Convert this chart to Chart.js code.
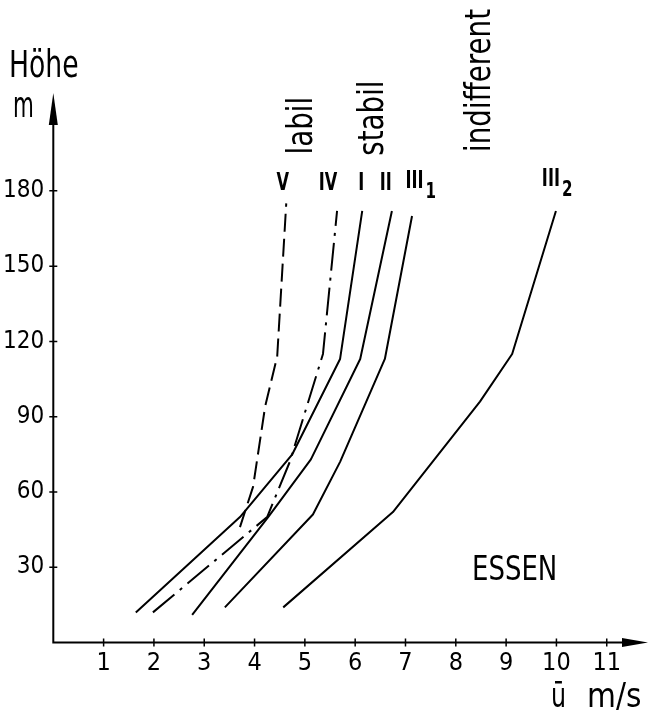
<!DOCTYPE html>
<html>
<head>
<meta charset="utf-8">
<script src="https://cdn.jsdelivr.net/npm/chart.js@4/dist/chart.umd.min.js"></script>
<style>
  html, body { margin: 0; padding: 0; background: #fff; }
  canvas { display: block; }
</style>
</head>
<body>
<canvas id="c" width="648" height="713"></canvas>
<script>
// ---- data (wind speed u [m/s] at height h [m]) ----
const uTicks = [1, 2, 3, 4, 5, 6, 7, 8, 9, 10, 11];
const hTicks = [30, 60, 90, 120, 150, 180];

const curveV_u   = [3.71, 3.97, 4.21, 4.45, 4.63];
const curveV_h   = [46, 62, 94, 114, 175];
const curveIV_u  = [1.98, 4.25, 4.70, 5.36, 5.64];
const curveIV_h  = [12, 50, 72, 115, 172];
const curveI_u   = [1.64, 3.71, 4.75, 5.70, 6.14];
const curveI_h   = [12, 50, 75, 113, 172];
const curveII_u  = [2.76, 4.27, 5.12, 6.10, 6.73];
const curveII_h  = [11, 50, 73, 113, 172];
const curveIII1_u = [3.41, 5.16, 5.70, 6.59, 7.13];
const curveIII1_h = [14, 51, 72, 113, 170];
const curveIII2_u = [4.57, 6.75, 8.48, 9.12, 9.99];
const curveIII2_h = [14, 52, 96, 115, 172];

const curveNames = ['V', 'IV', 'I', 'II', 'III', 'III'];
const curveSubs  = ['', '', '', '', '1', '2'];
const labelU     = [4.56, 5.46, 6.12, 6.61, 7.18, 9.89];
const labelH     = [180.5, 180.5, 180.5, 180.5, 181, 182];

const stabilityTexts = ['labil', 'stabil', 'indifferent'];
const stabilityU     = [4.96, 6.37, 8.50];
const stabilityH     = [206, 209, 224];

// ---- build ----
const FONT = "'DejaVu Sans Condensed', 'Liberation Sans Narrow', 'DejaVu Sans', sans-serif";
function pts(us, hs) { return us.map((u, i) => ({ x: u, y: hs[i] })); }
function ds(us, hs, dash) {
  return { data: pts(us, hs), showLine: true, borderColor: '#000', borderWidth: 2,
           borderDash: dash, pointRadius: 0, tension: 0, fill: false,
           borderCapStyle: 'butt', borderJoinStyle: 'round' };
}
function txt(ctx, s, x, y, font, sx, align, baseline, rot) {
  ctx.save();
  ctx.font = font; ctx.textAlign = align; ctx.textBaseline = baseline;
  ctx.translate(x, y);
  if (rot) ctx.rotate(rot);
  ctx.scale(sx, 1);
  ctx.fillText(s, 0, 0);
  const w = ctx.measureText(s).width * sx;
  ctx.restore();
  return w;
}

const decor = {
  id: 'decor',
  afterDraw(chart) {
    const ctx = chart.ctx, a = chart.chartArea;
    const xs = chart.scales.x, ys = chart.scales.y;
    const x0 = xs.getPixelForValue(0), y0 = ys.getPixelForValue(0);
    ctx.save();
    ctx.strokeStyle = '#000'; ctx.fillStyle = '#000';
    ctx.lineWidth = 2;
    // axes
    ctx.beginPath();
    ctx.moveTo(x0 - 1, y0); ctx.lineTo(a.right - 20, y0);
    ctx.moveTo(x0, y0); ctx.lineTo(x0, a.top + 25);
    ctx.stroke();
    // arrows
    ctx.beginPath();
    ctx.moveTo(a.right, y0); ctx.lineTo(a.right - 26, y0 - 4.5); ctx.lineTo(a.right - 26, y0 + 4.5); ctx.closePath();
    ctx.fill();
    ctx.beginPath();
    ctx.moveTo(x0, a.top); ctx.lineTo(x0 - 4.5, a.top + 32); ctx.lineTo(x0 + 4.5, a.top + 32); ctx.closePath();
    ctx.fill();
    // tick crosses
    ctx.lineWidth = 1.5;
    ctx.beginPath();
    uTicks.forEach(v => { const p = xs.getPixelForValue(v); ctx.moveTo(p, y0 - 4); ctx.lineTo(p, y0 + 4); });
    hTicks.forEach(v => { const p = ys.getPixelForValue(v); ctx.moveTo(x0 - 4, p); ctx.lineTo(x0 + 4, p); });
    ctx.stroke();

    // curve labels
    curveNames.forEach((n, i) => {
      const px = xs.getPixelForValue(labelU[i]), py = ys.getPixelForValue(labelH[i]);
      const w = txt(ctx, n, px, py, 'bold 25px ' + FONT, 0.72, 'center', 'alphabetic');
      if (curveSubs[i]) {
        txt(ctx, curveSubs[i], px + w / 2 + 2, py + 10, 'bold 21px ' + FONT, 0.8, 'left', 'alphabetic');
      }
    });

    // rotated stability labels
    stabilityTexts.forEach((t, i) => {
      const px = xs.getPixelForValue(stabilityU[i]), py = ys.getPixelForValue(stabilityH[i]);
      txt(ctx, t, px, py, '35px ' + FONT, 0.88, 'center', 'middle', -Math.PI / 2);
    });

    // axis titles
    txt(ctx, 'Höhe', 9, 77, '37px ' + FONT, 0.8, 'left', 'alphabetic');
    txt(ctx, 'm', 13, 117, '36px ' + FONT, 0.66, 'left', 'alphabetic');
    txt(ctx, 'ū', 551, 707, '33px ' + FONT, 0.8, 'left', 'alphabetic');
    txt(ctx, 'm/s', 587, 707, '33px ' + FONT, 1.0, 'left', 'alphabetic');
    // place name
    txt(ctx, 'ESSEN', 472, 580, '34px ' + FONT, 0.85, 'left', 'alphabetic');
    ctx.restore();
  }
};

new Chart(document.getElementById('c'), {
  type: 'scatter',
  data: {
    datasets: [
      ds(curveV_u, curveV_h, [18, 7]),
      ds(curveIV_u, curveIV_h, [28, 7, 3, 7]),
      ds(curveI_u, curveI_h, []),
      ds(curveII_u, curveII_h, []),
      ds(curveIII1_u, curveIII1_h, []),
      ds(curveIII2_u, curveIII2_h, [])
    ]
  },
  options: {
    responsive: false,
    devicePixelRatio: 1,
    animation: false,
    layout: { padding: { top: 93, right: 0, left: 0, bottom: 0 } },
    plugins: { legend: { display: false }, tooltip: { enabled: false } },
    scales: {
      x: {
        type: 'linear', min: 0, max: 11.82,
        afterFit: s => { s.height = 70.5; },
        afterBuildTicks: s => { s.ticks = uTicks.map(v => ({ value: v })); },
        grid: { display: false, drawTicks: false },
        border: { display: false },
        ticks: { color: '#000', padding: 6, font: { family: FONT, size: 25 }, maxRotation: 0, autoSkip: false }
      },
      y: {
        type: 'linear', min: 0, max: 219,
        afterFit: s => { s.width = 53.3; },
        afterBuildTicks: s => { s.ticks = hTicks.map(v => ({ value: v })); },
        grid: { display: false, drawTicks: false },
        border: { display: false },
        ticks: { color: '#000', padding: 9, font: { family: FONT, size: 24 }, autoSkip: false }
      }
    }
  },
  plugins: [decor]
});
</script>
</body>
</html>
